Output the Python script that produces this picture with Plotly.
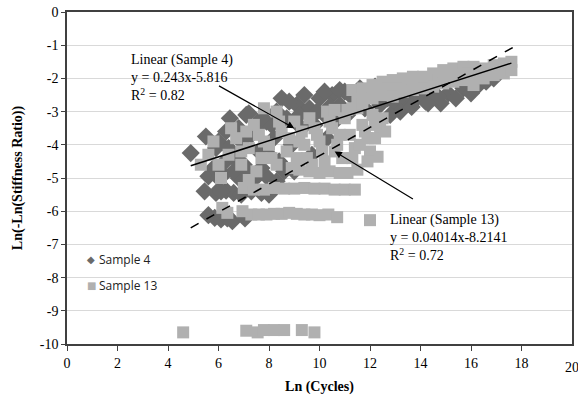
import plotly.graph_objects as go

# ---------------- data ----------------
s4_x = [4.9,
        5.6, 5.85, 6.1, 6.35, 6.55, 7.05,
        5.45, 5.9, 6.3, 6.6, 6.9, 7.3, 7.7, 8.0,
        5.6, 6.0, 6.8, 7.4, 7.9, 8.3,
        5.8, 6.2, 6.45, 7.1, 8.1,
        5.5, 5.9, 6.3, 6.6, 6.9, 7.2, 7.5, 7.0, 7.6, 7.9, 8.2, 8.5, 8.4, 8.7, 8.9,
        9.1, 9.3, 9.0, 9.6, 9.8, 9.7, 10.0, 10.2, 10.3, 10.5, 10.6, 10.8, 11.0,
        11.1, 11.4, 11.6, 11.8, 12.0, 12.2, 12.4,
        12.7, 13.0, 13.3, 13.6, 13.9, 14.2, 14.5, 14.8, 15.1, 15.4, 15.7, 16.0,
        16.3, 16.6, 16.9, 13.2, 12.8, 13.65, 14.3, 14.7,
        6.0, 6.4, 6.8, 7.3, 7.7, 8.3, 8.8, 9.2, 9.4, 9.9, 10.2, 10.4, 10.8, 11.2,
        6.2, 6.6, 7.2, 7.7, 8.0, 8.6, 6.1]
s4_y = [-4.25,
        -6.12, -6.2, -6.25, -6.22, -6.3, -6.22,
        -5.4, -5.45, -5.38, -5.45, -5.5, -5.4, -5.45, -5.5,
        -4.95, -5.0, -5.0, -5.05, -4.95, -5.1,
        -4.7, -4.55, -3.2, -3.1, -3.4,
        -3.75, -4.1, -3.6, -4.4, -3.9, -3.05, -3.5, -4.6, -4.2, -3.3, -3.8, -2.6, -4.5, -3.2, -4.0,
        -2.8, -3.5, -4.8, -2.9, -3.4, -4.3, -2.6, -3.1, -3.8, -2.5, -3.3, -2.8, -2.4,
        -3.1, -2.6, -2.3, -2.9, -2.5, -2.25, -2.8,
        -2.6, -2.75, -2.6, -2.8, -2.55, -2.7, -2.5, -2.75, -2.45, -2.6, -2.3, -2.45,
        -2.2, -2.1, -2.0, -3.0, -3.1, -2.86, -2.75, -2.55,
        -3.9, -4.1, -3.5, -3.7, -3.2, -3.0, -2.7, -3.1, -2.5, -3.0, -2.4, -2.85, -2.35, -2.5,
        -4.9, -4.8, -4.8, -4.7, -4.3, -4.8, -5.4]

s13_x = [4.6, 7.1, 7.55, 7.8, 8.2, 8.6, 9.3, 9.8,
         6.15, 6.35, 6.95, 7.3, 7.6, 7.9, 8.2, 8.5, 8.8, 9.1, 9.4, 9.7, 10.0, 10.35, 10.7, 12.0,
         7.0, 7.4, 7.8, 8.2, 8.6, 9.0, 9.4, 9.8, 10.2, 10.6, 11.0, 11.4,
         9.2, 9.6, 10.0, 10.4, 10.8, 11.1, 11.5,
         5.3, 5.8, 6.1, 6.4, 6.7, 6.9, 7.2, 7.4, 7.5, 7.8, 8.1, 8.3, 8.5, 8.7, 8.9,
         9.0, 9.2, 9.5, 9.6, 9.9, 10.1, 10.3, 10.5, 10.7, 10.9, 11.0, 11.2, 11.4,
         11.5, 11.7, 11.9, 12.0, 12.3, 12.1, 12.4, 11.1, 7.2,
         5.6, 6.0, 6.5, 6.9, 7.1, 7.6, 7.7, 8.0, 8.3, 8.4, 8.8, 9.1, 9.3, 9.4, 9.7,
         9.8, 10.0, 10.2, 10.4, 10.6, 10.8, 11.3, 11.6, 11.8, 12.2, 11.9,
         7.8, 10.6, 11.1, 12.5, 12.6, 12.2,
         11.3, 11.7, 12.1, 12.5, 12.9, 13.3, 13.7, 14.1, 14.5, 14.9, 15.3, 15.7,
         16.1, 16.5, 16.9, 17.3, 17.6,
         11.5, 11.9, 12.3, 12.7, 13.1, 13.5, 13.9, 14.3, 14.7, 15.1, 15.5, 15.9,
         16.3, 16.7, 17.1, 17.5,
         11.3, 11.7, 12.1, 12.5, 12.9, 13.3, 13.7, 14.1, 14.5, 14.9, 15.3, 15.7,
         16.1, 16.5, 16.9, 17.3, 17.6]
s13_y = [-9.65, -9.6, -9.65, -9.58, -9.58, -9.58, -9.58, -9.65,
         -5.9, -6.05, -6.0, -6.1, -6.1, -6.1, -6.08, -6.08, -6.05, -6.08, -6.1, -6.1, -6.12, -6.1, -6.18, -6.27,
         -5.3, -5.35, -5.35, -5.3, -5.32, -5.32, -5.3, -5.32, -5.32, -5.35, -5.35, -5.35,
         -4.75, -4.8, -4.85, -4.8, -4.85, -4.85, -4.75,
         -4.6, -3.9, -5.0, -4.3, -3.8, -4.6, -4.1, -3.4, -4.8, -3.9, -4.4, -3.0, -3.6, -4.2, -4.7,
         -3.3, -3.9, -4.4, -3.2, -3.7, -4.2, -3.0, -3.5, -4.0, -4.4, -3.2, -3.7, -4.1,
         -2.9, -3.4, -3.8, -4.2, -4.36, -3.1, -3.5, -4.85, -5.06,
         -4.3, -4.6, -3.5, -4.2, -3.6, -3.7, -4.4, -4.0, -4.6, -3.3, -3.8, -4.4, -3.6, -4.0, -4.6,
         -3.5, -3.9, -4.5, -3.3, -4.2, -3.7, -4.4, -4.0, -3.6, -3.8, -4.5,
         -2.9, -2.95, -2.95, -3.2, -3.6, -3.4,
         -2.35, -2.3, -2.2, -2.1, -2.05, -2.0, -1.95, -1.95, -1.85, -1.75, -1.7, -1.65,
         -1.65, -1.7, -1.6, -1.55, -1.5,
         -2.6, -2.5, -2.4, -2.3, -2.3, -2.2, -2.15, -2.1, -2.05, -1.95, -1.9, -1.85,
         -1.9, -1.85, -1.75, -1.65,
         -2.9, -2.75, -2.6, -2.5, -2.55, -2.4, -2.35, -2.3, -2.25, -2.15, -2.1, -2.05,
         -2.2, -2.0, -1.9, -1.85, -1.75]

# trend lines (end points of fitted lines)
fit4_x = [4.9, 17.6]
fit4_y = [-4.63, -1.54]
fit13_x = [4.9, 17.7]
fit13_y = [-6.5, -1.05]

x_ticks = [0, 2, 4, 6, 8, 10, 12, 14, 16, 18, 20]
y_ticks = [0, -1, -2, -3, -4, -5, -6, -7, -8, -9, -10]

series_names = ["Sample 4", "Sample 13"]
series_colors = ["#6a6a6a", "#b0b0b0"]

SERIF = "Liberation Serif, Times New Roman, serif"
SANS = "Open Sans, Liberation Sans, sans-serif"

fig = go.Figure()
fig.add_trace(go.Scatter(x=s4_x, y=s4_y, mode="markers", name=series_names[0],
                         showlegend=False,
                         marker=dict(symbol="diamond", size=14, color=series_colors[0],
                                     line=dict(width=0))))
fig.add_trace(go.Scatter(x=s13_x, y=s13_y, mode="markers", name=series_names[1],
                         showlegend=False,
                         marker=dict(symbol="square", size=12, color=series_colors[1],
                                     line=dict(width=0))))
fig.add_trace(go.Scatter(x=fit4_x, y=fit4_y, mode="lines", showlegend=False,
                         line=dict(color="black", width=1.5)))
fig.add_trace(go.Scatter(x=fit13_x, y=fit13_y, mode="lines", showlegend=False,
                         line=dict(color="black", width=1.5, dash="dash")))

# arrows
fig.add_annotation(x=9.0, y=-3.5, ax=5.96, ay=-2.2, axref="x", ayref="y",
                   xref="x", yref="y", text="", showarrow=True,
                   arrowhead=2, arrowsize=1.2, arrowwidth=1.2, arrowcolor="black")
fig.add_annotation(x=10.6, y=-4.2, ax=13.76, ay=-5.66, axref="x", ayref="y",
                   xref="x", yref="y", text="", showarrow=True,
                   arrowhead=2, arrowsize=1.2, arrowwidth=1.2, arrowcolor="black")

fig.add_annotation(x=2.46, y=-1.15, xref="x", yref="y", xanchor="left", yanchor="top",
                   align="left", showarrow=False,
                   text="Linear (Sample 4)<br>y = 0.243x-5.816<br>R<sup>2</sup> = 0.82",
                   font=dict(family=SERIF, size=14, color="black"))
fig.add_annotation(x=12.73, y=-5.95, xref="x", yref="y", xanchor="left", yanchor="top",
                   align="left", showarrow=False,
                   text="Linear (Sample 13)<br>y = 0.04014x-8.2141<br>R<sup>2</sup> = 0.72",
                   font=dict(family=SERIF, size=14, color="black"))

# legend (drawn inside the plot area)
legend_y = [-7.44, -8.25]
legend_glyph = ["\u25c6", "\u25a0"]
for name, col, gy, gl in zip(series_names, series_colors, legend_y, legend_glyph):
    fig.add_annotation(x=0.96, y=gy, xref="x", yref="y", showarrow=False,
                       text=gl, font=dict(family="DejaVu Sans", size=10, color=col))
    fig.add_annotation(x=1.2, y=gy, xref="x", yref="y", xanchor="left", showarrow=False,
                       text=name, font=dict(family=SANS, size=12, color="#222"))

# clipped "20" tick label at right edge
fig.add_annotation(x=20, y=0, xref="x", yref="paper", yanchor="top", yshift=-14,
                   showarrow=False, text="20",
                   font=dict(family=SERIF, size=14, color="black"))

fig.update_layout(
    width=578, height=397,
    margin=dict(l=67, r=4, t=12, b=53),
    paper_bgcolor="white", plot_bgcolor="white",
    font=dict(family=SERIF, size=14, color="black"),
    showlegend=False,
)
fig.update_xaxes(range=[0, 20], tickvals=x_ticks[:-1], ticktext=[str(v) for v in x_ticks[:-1]],
                 showgrid=False, zeroline=False, showline=True, mirror=True,
                 linecolor="#404040", linewidth=1.5, ticks="outside", ticklen=5,
                 tickcolor="#404040",
                 title=dict(text="<b>Ln (Cycles)</b>", font=dict(family=SERIF, size=14),
                            standoff=12))
fig.update_yaxes(range=[-10, 0], tickvals=y_ticks, ticktext=[str(v) for v in y_ticks],
                 showgrid=True, gridcolor="#d9d9d9", gridwidth=1, zeroline=False,
                 showline=True, mirror=True, linecolor="#404040", linewidth=1.5,
                 ticks="outside", ticklen=4, tickcolor="#404040",
                 title=dict(text="<b>Ln(-Ln(Stiffness Ratio))</b>",
                            font=dict(family=SERIF, size=14), standoff=14))

fig.write_html("out.html")
